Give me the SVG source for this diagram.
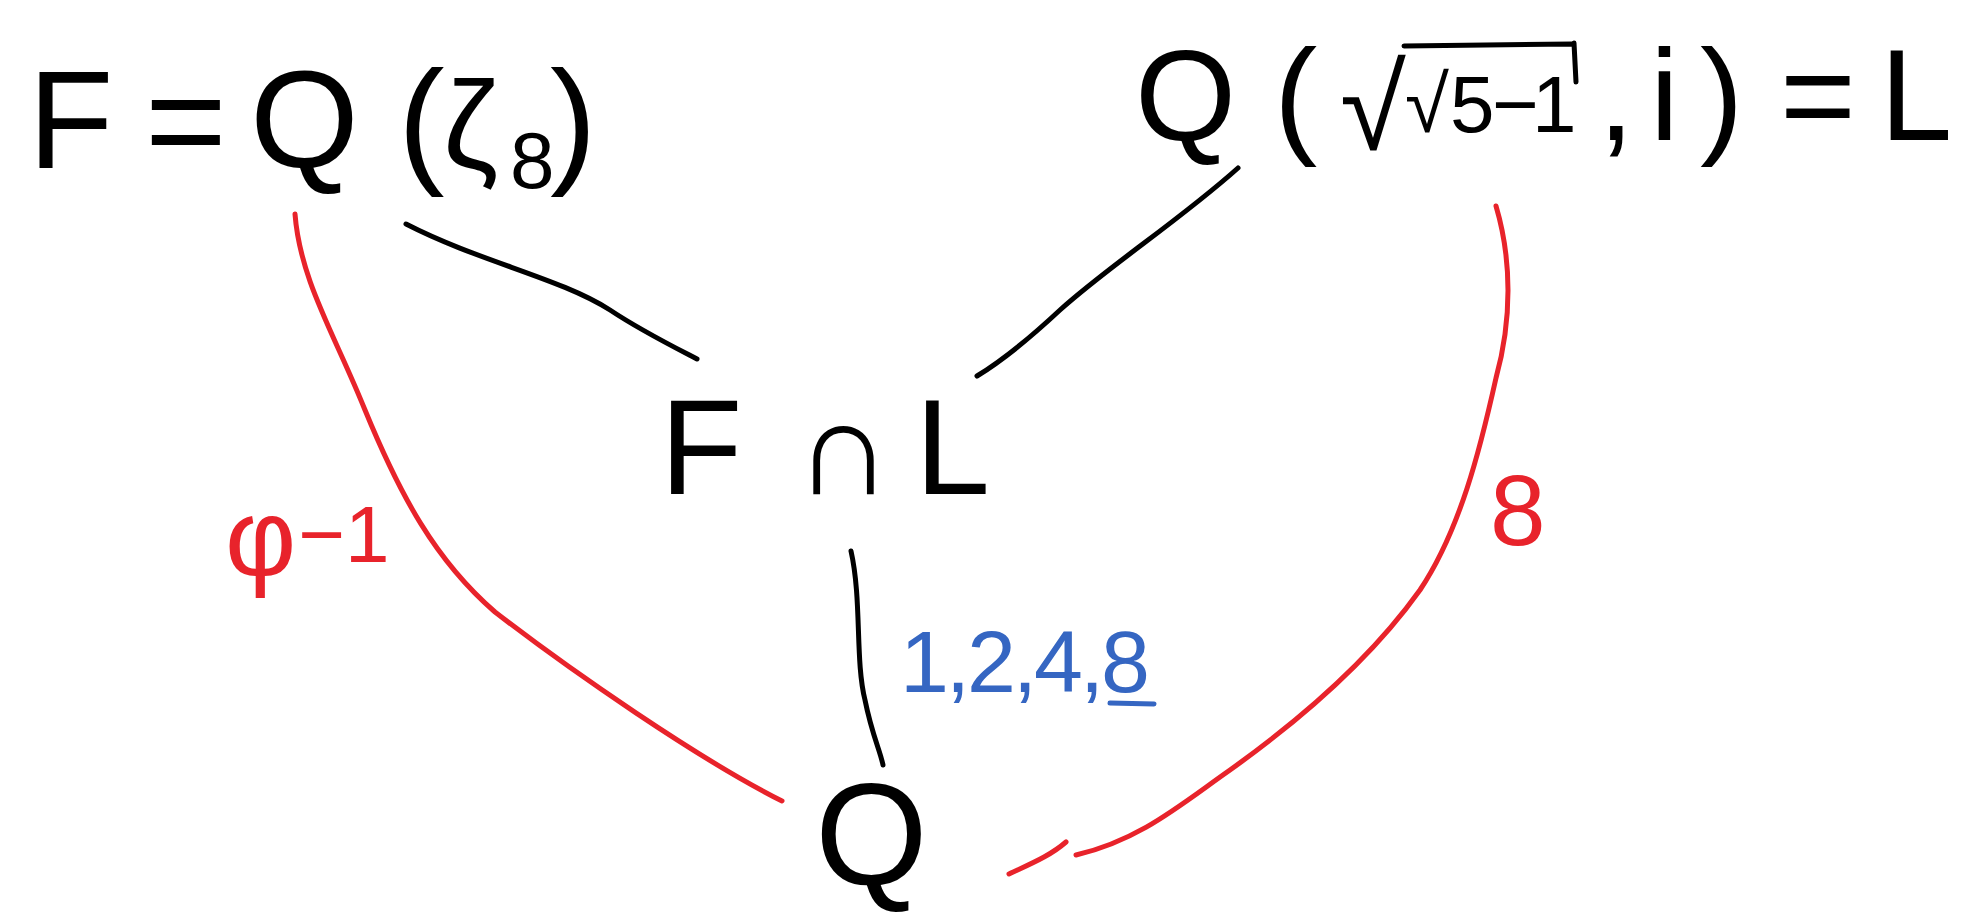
<svg xmlns="http://www.w3.org/2000/svg" width="1977" height="924" viewBox="0 0 1977 924">
<style>
.t{font-family:"Liberation Sans","DejaVu Sans",sans-serif;fill:#000}
.r{fill:#e8232b}
.b{fill:#3566c2}
.e{fill:none;stroke-linecap:round;stroke-linejoin:round;stroke-width:5}
.k{stroke:#000}
.red{stroke:#e8232b}
</style>
<rect width="1977" height="924" fill="#fff"/>
<g id="connectors">
<path class="e k" d="M406,224 C480,262 560,278 610,310 C640,330 670,345 697,359"/>
<path class="e k" d="M1238,168 C1180,220 1110,265 1060,310 C1030,338 1000,362 977,376"/>
<path class="e k" d="M851,551 C862,600 855,660 865,700 C872,735 880,750 883,765"/>
<path class="e red" d="M295,214 C300,280 335,335 365,410 C400,495 435,560 495,612 C570,670 700,760 782,801"/>
<path class="e red" d="M1496,206 C1512,260 1512,320 1496,378 C1480,450 1460,530 1420,590 C1370,660 1300,720 1230,770 C1180,805 1140,840 1076,855"/>
<path class="e red" d="M1009,874 C1030,864 1050,856 1066,842"/>
</g>
<g id="node-F">
<text class="t" font-size="140" y="168"><tspan x="28">F</tspan><tspan x="145">=</tspan><tspan x="250">Q</tspan><tspan x="398">(</tspan><tspan x="443" font-size="125">ζ</tspan><tspan x="510" font-size="80" y="188">8</tspan><tspan x="550" y="168">)</tspan></text>
</g>
<g id="node-L">
<text class="t" font-size="130" y="140"><tspan x="1135">Q</tspan><tspan x="1274">(</tspan><tspan x="1340" font-size="120" y="150">√</tspan><tspan x="1405" font-size="80" y="132">√</tspan><tspan x="1450" font-size="80" y="132">5</tspan><tspan x="1492" font-size="80" y="132">−</tspan><tspan x="1532" font-size="80" y="132">1</tspan><tspan x="1598" y="140">,</tspan><tspan x="1650">i</tspan><tspan x="1700">)</tspan><tspan x="1780">=</tspan><tspan x="1880">L</tspan></text>
<path class="e k" d="M1404,46 L1572,44 M1574,43 L1576,82"/>
</g>
<g id="node-FcapL">
<text class="t" font-size="135" y="494"><tspan x="660">F</tspan><tspan x="795">∩</tspan><tspan x="915">L</tspan></text>
</g>
<g id="node-Q">
<text class="t" font-size="145" x="815" y="885">Q</text>
</g>
<g id="labels">
<text class="t r" x="225" y="575" font-size="110">φ<tspan font-size="80" dx="2" y="562">−1</tspan></text>
<text class="t r" x="1490" y="545" font-size="100">8</text>
<text class="t b" x="900" y="692" font-size="88" textLength="250" lengthAdjust="spacing">1,2,4,8</text>
<path class="e" stroke="#3566c2" d="M1110,703 L1154,704"/>
</g>
</svg>
